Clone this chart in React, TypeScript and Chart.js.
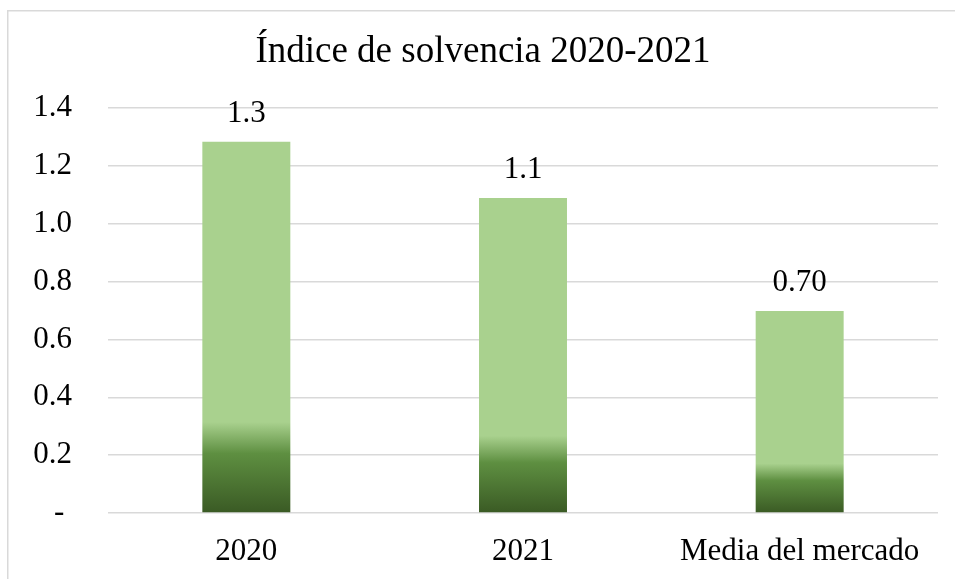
import React, { useEffect, useRef } from "react";
import { Chart, registerables } from "chart.js";

Chart.register(...registerables);

const categories = ["2020", "2021", "Media del mercado"];
const solvencyValues = [1.283, 1.089, 0.698];
const valueLabels = ["1.3", "1.1", "0.70"];
const yTicks = [0, 0.2, 0.4, 0.6, 0.8, 1.0, 1.2, 1.4];
const chartTitle = "Índice de solvencia 2020-2021";

const FONT = "'Liberation Serif', 'Times New Roman', serif";

const borderPlugin = {
  id: "outerBorder",
  beforeDraw(chart: any) {
    const ctx = chart.ctx;
    ctx.save();
    ctx.fillStyle = "#ffffff";
    ctx.fillRect(0, 0, chart.width, chart.height);
    ctx.strokeStyle = "#d9d9d9";
    ctx.lineWidth = 1.5;
    ctx.beginPath();
    ctx.moveTo(7.75, chart.height + 5);
    ctx.lineTo(7.75, 10.75);
    ctx.lineTo(chart.width + 5, 10.75);
    ctx.stroke();
    ctx.restore();
  },
};

const valueLabelPlugin = {
  id: "valueLabels",
  afterDatasetsDraw(chart: any) {
    const ctx = chart.ctx;
    const meta = chart.getDatasetMeta(0);
    ctx.save();
    ctx.font = `31px ${FONT}`;
    ctx.fillStyle = "#000000";
    ctx.textAlign = "center";
    ctx.textBaseline = "middle";
    meta.data.forEach((bar: any, i: number) => {
      ctx.fillText(valueLabels[i], bar.x, bar.y - 28);
    });
    ctx.restore();
  },
};

function barGradient(context: any) {
  const chart = context.chart;
  const yScale = chart.scales?.y;
  if (!chart.chartArea || !yScale || context.dataIndex === undefined) return "#a9d18e";
  const v = solvencyValues[context.dataIndex];
  const top = yScale.getPixelForValue(v);
  const base = yScale.getPixelForValue(0);
  if (!isFinite(top) || !isFinite(base) || top === base) return "#a9d18e";
  const g = chart.ctx.createLinearGradient(0, top, 0, base);
  g.addColorStop(0, "#a9d18e");
  g.addColorStop(0.755, "#a9d18e");
  g.addColorStop(0.84, "#5e8f41");
  g.addColorStop(1, "#3a5a24");
  return g;
}

export default function App() {
  const canvasRef = useRef<HTMLCanvasElement | null>(null);

  useEffect(() => {
    document.body.style.margin = "0";
    const canvas = canvasRef.current;
    if (!canvas) return;
    const chart = new Chart(canvas, {
      type: "bar",
      data: {
        labels: categories,
        datasets: [
          {
            data: solvencyValues,
            backgroundColor: barGradient,
            borderWidth: 0,
            categoryPercentage: 1,
            barPercentage: 0.318,
          },
        ],
      },
      options: {
        responsive: false,
        animation: false,
        devicePixelRatio: 1,
        layout: { padding: { left: 28, right: 17, top: 0, bottom: 0 } },
        plugins: {
          legend: { display: false },
          tooltip: { enabled: false },
          title: {
            display: true,
            text: chartTitle,
            color: "#000000",
            font: { family: FONT, size: 37, weight: "normal" },
            padding: { top: 30, bottom: 33.6 },
          },
        },
        scales: {
          x: {
            grid: { display: false, drawTicks: false },
            border: { display: false },
            ticks: {
              color: "#000000",
              font: { family: FONT, size: 31 },
              padding: 20,
              maxRotation: 0,
              autoSkip: false,
            },
            afterFit(scale: any) {
              scale.height = 66;
            },
          },
          y: {
            min: 0,
            max: 1.4,
            grid: { color: "#d9d9d9", lineWidth: 1.5, drawTicks: false },
            border: { display: false },
            afterBuildTicks(scale: any) {
              scale.ticks = yTicks.map((v) => ({ value: v }));
            },
            ticks: {
              color: "#000000",
              font: { family: FONT, size: 31 },
              padding: 36,
              callback: (value: any) => (Number(value) === 0 ? "- " : Number(value).toFixed(1)),
            },
            afterFit(scale: any) {
              scale.width = 80;
            },
          },
        },
      },
      plugins: [borderPlugin, valueLabelPlugin],
    });
    return () => chart.destroy();
  }, []);

  return (
    <div style={{ width: 955, height: 579 }}>
      <canvas ref={canvasRef} width={955} height={579} style={{ display: "block" }} />
    </div>
  );
}
